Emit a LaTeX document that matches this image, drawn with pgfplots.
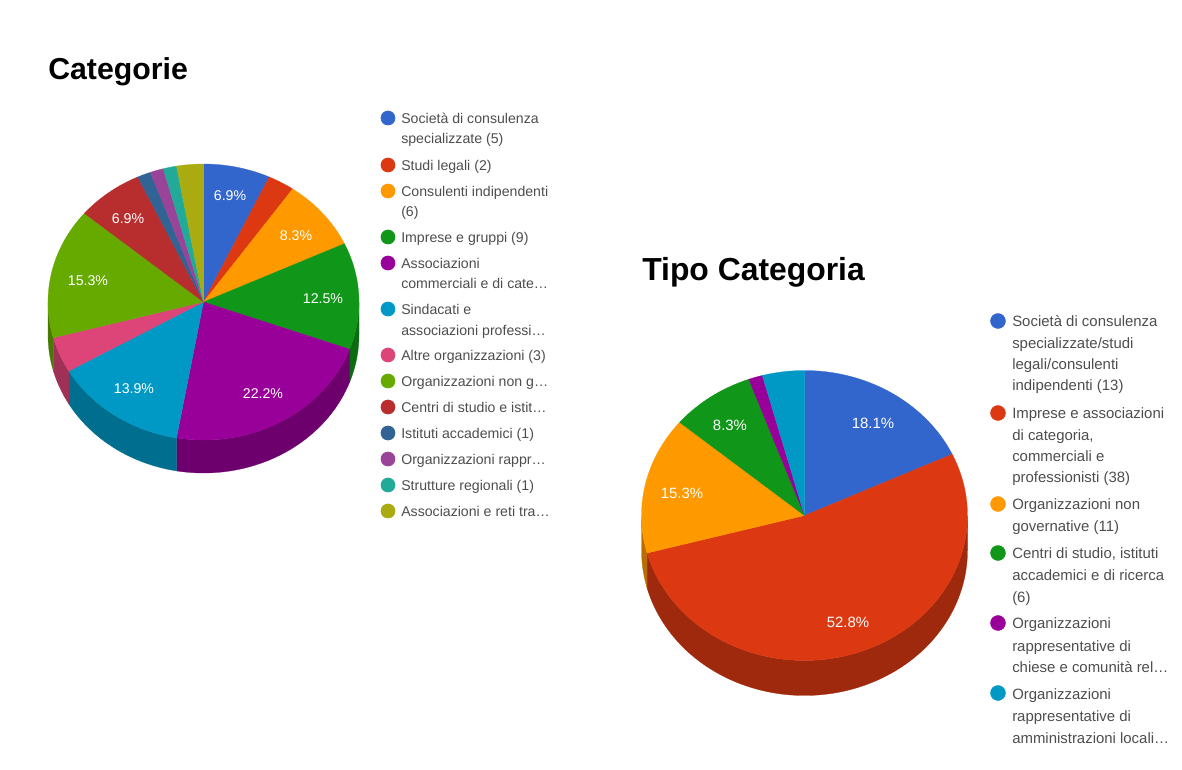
\documentclass[border=0pt]{standalone}
\usepackage{fontspec}
\setmainfont{Liberation Sans}
\usepackage{pgfplots}
\usepackage{pgfplotstable}
\pgfplotsset{compat=1.18}

% Slice palette
\definecolor{cBlue}{HTML}{3366CC}
\definecolor{cRed}{HTML}{DC3912}
\definecolor{cOrange}{HTML}{FF9900}
\definecolor{cGreen}{HTML}{109618}
\definecolor{cPurple}{HTML}{990099}
\definecolor{cCyan}{HTML}{0099C6}
\definecolor{cPink}{HTML}{DD4477}
\definecolor{cLime}{HTML}{66AA00}
\definecolor{cBrick}{HTML}{B82E2E}
\definecolor{cNavy}{HTML}{316395}
\definecolor{cMauve}{HTML}{994499}
\definecolor{cTeal}{HTML}{22AA99}
\definecolor{cOlive}{HTML}{AAAA11}
\definecolor{legendtext}{HTML}{4D4D4D}

% Number of respondents per slice
\pgfplotstableread{
count colour
5  cBlue
2  cRed
6  cOrange
9  cGreen
16 cPurple
10 cCyan
3  cPink
11 cLime
5  cBrick
1  cNavy
1  cMauve
1  cTeal
2  cOlive
}\categorie

\pgfplotstableread{
count colour
13 cBlue
38 cRed
11 cOrange
6  cGreen
1  cPurple
3  cCyan
}\tipocategoria

% Appends an elliptical arc (angles clockwise from the top) to \pts
\newcommand{\appendarc}[3]{%
  \pgfmathtruncatemacro\nst{max(2,ceil(abs(#2-#1)/2))}%
  \foreach \k in {0,...,\nst}{%
    \pgfmathsetmacro\th{#1+(#2-#1)/\nst*\k}%
    \pgfmathsetmacro\px{\cx+\rx*sin(\th)}%
    \pgfmathsetmacro\py{\cy-\ry*cos(\th)+#3}%
    \xdef\pts{\pts (\px,\py)}%
  }%
}

% \drawpie{table}{total}{cx}{cy}{rx}{ry}{depth}: walls first, then the top faces
\newcommand{\drawpie}[7]{%
  \def\cx{#3}\def\cy{#4}\def\rx{#5}\def\ry{#6}%
  \pgfplotstablegetrowsof{#1}%
  \pgfmathtruncatemacro\last{\pgfplotsretval-1}%
  \xdef\cum{0}%
  \foreach \i in {0,...,\last}{%
    \pgfplotstablegetelem{\i}{count}\of{#1}\let\val\pgfplotsretval
    \pgfplotstablegetelem{\i}{colour}\of{#1}\let\col\pgfplotsretval
    \pgfmathsetmacro\aa{\cum/#2*360}%
    \pgfmathsetmacro\bb{(\cum+\val)/#2*360}%
    \pgfmathsetmacro\wa{max(\aa,90)}%
    \pgfmathsetmacro\wb{min(\bb,270)}%
    \pgfmathparse{\wb>\wa?1:0}%
    \ifdim\pgfmathresult pt>0.5pt
      \xdef\pts{}%
      \appendarc{\wa}{\wb}{0}%
      \appendarc{\wb}{\wa}{#7}%
      \edef\temp{\noexpand\addplot[fill=\col!72!black,draw=\col!72!black,line width=0.2pt]
        coordinates {\pts} --cycle;}%
      \temp
    \fi
    \pgfmathsetmacro\newcum{\cum+\val}%
    \xdef\cum{\newcum}%
  }%
  \xdef\cum{0}%
  \foreach \i in {0,...,\last}{%
    \pgfplotstablegetelem{\i}{count}\of{#1}\let\val\pgfplotsretval
    \pgfplotstablegetelem{\i}{colour}\of{#1}\let\col\pgfplotsretval
    \pgfmathsetmacro\aa{\cum/#2*360}%
    \pgfmathsetmacro\bb{(\cum+\val)/#2*360}%
    \xdef\pts{(\cx,\cy)}%
    \appendarc{\aa}{\bb}{0}%
    \edef\temp{\noexpand\addplot[fill=\col,draw=\col,line width=0.2pt]
      coordinates {\pts} --cycle;}%
    \temp
    \pgfmathsetmacro\newcum{\cum+\val}%
    \xdef\cum{\newcum}%
  }%
}

% Legend dot drawn on the axis
\newcommand{\legdot}[4]{\addplot[only marks,mark=*,mark size=#4,mark options={fill=#3,draw=#3}]
  coordinates {(#1,#2)};}

\tikzset{
  titlelabel/.style={anchor=base west,inner sep=0pt,text=black,font=\bfseries\fontsize{#1}{26}\selectfont},
  pctlabel/.style={inner sep=0pt,text=white,font=\fontsize{#1}{13}\selectfont},
  leftlegend/.style={anchor=west,inner sep=0pt,text=legendtext,font=\fontsize{10.6}{12}\selectfont,
    text height=1.8ex,text depth=0.3ex},
  rightlegend/.style={anchor=west,inner sep=0pt,text=legendtext,font=\fontsize{11.2}{13}\selectfont,
    text height=2ex,text depth=0.3ex},
}

\begin{document}
\begin{tikzpicture}
\path[use as bounding box] (0,0) rectangle (886.5pt,576.75pt);
\begin{axis}[
  at={(0,0)},anchor=south west,
  scale only axis,width=886.5pt,height=576.75pt,
  xmin=0,xmax=1182,ymin=0,ymax=769,y dir=reverse,
  hide axis,clip=false,
]
% Left pie
\drawpie{\categorie}{72}{203.5}{302}{155.5}{138}{33}
% Right pie
\drawpie{\tipocategoria}{72}{804.5}{515.5}{163}{145}{35}

% Titles
\node[titlelabel=22.7] at (axis cs:48,79) {Categorie};
\node[titlelabel=23.9] at (axis cs:642,280) {Tipo Categoria};

% Slice percentages
\foreach \x/\y/\t in {230/196/6.9,296/236/8.3,323/299/12.5,263/394/22.2,134/389/13.9,88/281/15.3,128/219/6.9}{
  \edef\temp{\noexpand\node[pctlabel=10.6] at (axis cs:\x,\y) {\t\noexpand\%};}\temp
}
\foreach \x/\y/\t in {873/423/18.1,848/622/52.8,682/493/15.3,730/425/8.3}{
  \edef\temp{\noexpand\node[pctlabel=11.2] at (axis cs:\x,\y) {\t\noexpand\%};}\temp
}

% Legend, left
\legdot{388}{118}{cBlue}{5.3pt}
\legdot{388}{165}{cRed}{5.3pt}
\legdot{388}{191}{cOrange}{5.3pt}
\legdot{388}{237}{cGreen}{5.3pt}
\legdot{388}{263}{cPurple}{5.3pt}
\legdot{388}{309}{cCyan}{5.3pt}
\legdot{388}{355}{cPink}{5.3pt}
\legdot{388}{381}{cLime}{5.3pt}
\legdot{388}{407}{cBrick}{5.3pt}
\legdot{388}{433}{cNavy}{5.3pt}
\legdot{388}{459}{cMauve}{5.3pt}
\legdot{388}{485}{cTeal}{5.3pt}
\legdot{388}{511}{cOlive}{5.3pt}
\foreach \y/\t in {118/Società di consulenza,138/specializzate (5),165/Studi legali (2),191/Consulenti indipendenti,
  211/(6),237/Imprese e gruppi (9),263/Associazioni,283/commerciali e di cate…,309/Sindacati e,
  330/associazioni professi…,355/Altre organizzazioni (3),381/Organizzazioni non g…,407/Centri di studio e istit…,
  433/Istituti accademici (1),459/Organizzazioni rappr…,485/Strutture regionali (1),511/Associazioni e reti tra…}{
  \edef\temp{\noexpand\node[leftlegend] at (axis cs:401,\y) {\t};}\temp
}

% Legend, right
\legdot{998}{321}{cBlue}{5.6pt}
\legdot{998}{413}{cRed}{5.6pt}
\legdot{998}{504}{cOrange}{5.6pt}
\legdot{998}{553}{cGreen}{5.6pt}
\legdot{998}{623}{cPurple}{5.6pt}
\legdot{998}{693}{cCyan}{5.6pt}
\foreach \y/\t in {321/Società di consulenza,343/{specializzate/studi},364/{legali/consulenti},385/indipendenti (13),
  413/Imprese e associazioni,435/{di categoria,},456/commerciali e,477/professionisti (38),
  504/Organizzazioni non,526/governative (11),553/{Centri di studio, istituti},575/accademici e di ricerca,597/(6),
  623/Organizzazioni,645/rappresentative di,667/chiese e comunità rel…,693/Organizzazioni,715/rappresentative di,
  737/amministrazioni locali…}{
  \edef\temp{\noexpand\node[rightlegend] at (axis cs:1012,\y) {\t};}\temp
}
\end{axis}
\end{tikzpicture}
\end{document}
